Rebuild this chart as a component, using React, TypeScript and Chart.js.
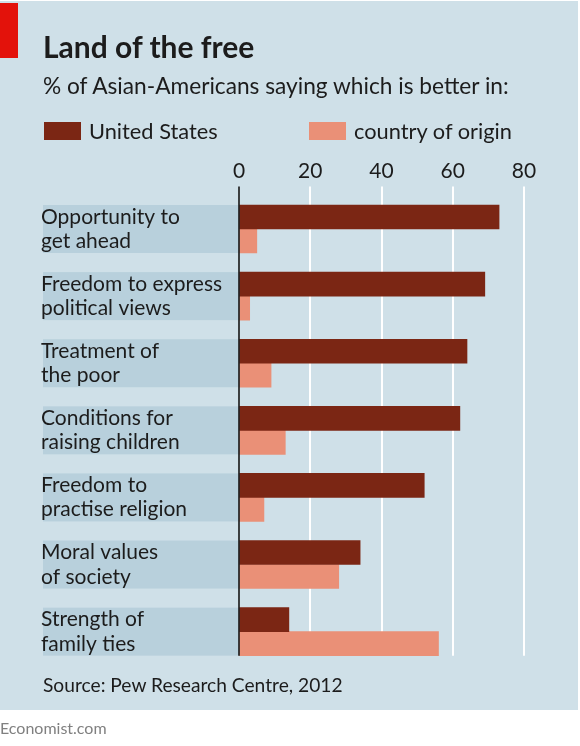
import React, { useEffect, useRef } from "react";
import { Chart, registerables } from "chart.js";

Chart.register(...registerables);

const categories: string[][] = [
  ["Opportunity to", "get ahead"],
  ["Freedom to express", "political views"],
  ["Treatment of", "the poor"],
  ["Conditions for", "raising children"],
  ["Freedom to", "practise religion"],
  ["Moral values", "of society"],
  ["Strength of", "family ties"],
];
const unitedStates = [73, 69, 64, 62, 52, 34, 14];
const countryOfOrigin = [5, 3, 9, 13, 7, 28, 56];
const xTickValues = [0, 20, 40, 60, 80];
const seriesNames = ["United States", "country of origin"];

const FONT = "Lato, 'Noto Sans', sans-serif";
const BG = "#cfe0e8";
const BAND = "#b8d0dc";
const US_COLOR = "#7b2614";
const COO_COLOR = "#ea9077";
const TEXT = "#1c1c1c";

const decorPlugin = {
  id: "decor",
  beforeDraw(chart: any) {
    const { ctx, chartArea, scales } = chart;
    const y = scales.y;
    ctx.save();
    ctx.fillStyle = BAND;
    categories.forEach((_, i) => {
      const c = y.getPixelForValue(i);
      ctx.fillRect(43, c - 24, chartArea.left - 43, 48);
    });
    ctx.restore();
  },
  beforeDatasetsDraw(chart: any) {
    const { ctx, chartArea, scales } = chart;
    const x = scales.x;
    const y = scales.y;
    const top = chartArea.top - 9;
    const bottom = y.getPixelForValue(categories.length - 1) + 24;
    ctx.save();
    ctx.strokeStyle = "#ffffff";
    ctx.lineWidth = 2;
    x.ticks.forEach((t: any) => {
      if (t.value === 0) return;
      const px = Math.round(x.getPixelForValue(t.value));
      ctx.beginPath();
      ctx.moveTo(px, top);
      ctx.lineTo(px, bottom);
      ctx.stroke();
    });
    ctx.restore();
  },
  afterDatasetsDraw(chart: any) {
    const { ctx, chartArea, scales } = chart;
    const x = scales.x;
    const y = scales.y;
    const top = chartArea.top - 9;
    const bottom = y.getPixelForValue(categories.length - 1) + 24;
    const px = x.getPixelForValue(0);
    ctx.save();
    ctx.strokeStyle = "#222222";
    ctx.lineWidth = 1.7;
    ctx.beginPath();
    ctx.moveTo(px, top);
    ctx.lineTo(px, bottom);
    ctx.stroke();
    ctx.restore();
  },
};

export default function App() {
  const ref = useRef<HTMLCanvasElement | null>(null);

  useEffect(() => {
    if (!ref.current) return;
    const chart = new Chart(ref.current, {
      type: "bar",
      data: {
        labels: categories,
        datasets: [
          {
            label: seriesNames[0],
            data: unitedStates,
            backgroundColor: US_COLOR,
            barThickness: 24,
            borderWidth: 0,
          },
          {
            label: seriesNames[1],
            data: countryOfOrigin,
            backgroundColor: COO_COLOR,
            barThickness: 24,
            borderWidth: 0,
          },
        ],
      },
      options: {
        indexAxis: "y",
        animation: false,
        responsive: false,
        maintainAspectRatio: false,
        layout: { padding: { left: 41, right: 56, top: 150, bottom: 80.8 } },
        plugins: {
          legend: { display: false },
          tooltip: { enabled: false },
          title: { display: false },
        },
        scales: {
          x: {
            position: "top",
            min: 0,
            max: 80,
            afterBuildTicks: (scale: any) => {
              scale.ticks = xTickValues.map((v) => ({ value: v }));
            },
            afterFit: (scale: any) => {
              scale.height = 45.45;
            },
            grid: { display: false, drawTicks: false },
            border: { display: false },
            ticks: {
              color: TEXT,
              font: { family: FONT, size: 21 },
              padding: 11.5,
              maxRotation: 0,
            },
          },
          y: {
            offset: true,
            afterFit: (scale: any) => {
              scale.width = 198;
            },
            grid: { display: false, drawTicks: false },
            border: { display: false },
            ticks: {
              color: TEXT,
              crossAlign: "far",
              font: { family: FONT, size: 21, lineHeight: "24.5px" },
              padding: 0,
              autoSkip: false,
            },
          },
        },
      },
      plugins: [decorPlugin],
    });
    return () => chart.destroy();
  }, []);

  const abs = (s: React.CSSProperties): React.CSSProperties => ({
    position: "absolute",
    margin: 0,
    whiteSpace: "nowrap",
    ...s,
  });

  return (
    <div
      style={{
        position: "absolute",
        left: 0,
        top: 0,
        width: 580,
        height: 746,
        background: "#ffffff",
        overflow: "hidden",
        fontFamily: FONT,
      }}
    >
      <div style={abs({ left: 0, top: 1, width: 578, height: 709, background: BG })} />
      <div style={abs({ left: 0, top: 3, width: 18, height: 55, background: "#e3120b" })} />
      <canvas
        ref={ref}
        width={580}
        height={746}
        style={{ position: "absolute", left: 0, top: 0, width: 580, height: 746 }}
      />
      <div
        style={abs({
          left: 43,
          top: 30.7,
          fontSize: 30,
          lineHeight: "30px",
          fontWeight: 700,
          color: TEXT,
        })}
      >
        Land of the free
      </div>
      <div style={abs({ left: 43, top: 74.9, fontSize: 22.7, lineHeight: "22.7px", color: TEXT })}>
        % of Asian-Americans saying which is better in:
      </div>
      <div style={abs({ left: 44, top: 122, width: 37, height: 18, background: US_COLOR })} />
      <div style={abs({ left: 89, top: 120, fontSize: 21.8, lineHeight: "21.8px", color: TEXT })}>
        {seriesNames[0]}
      </div>
      <div style={abs({ left: 309, top: 122, width: 37, height: 18, background: COO_COLOR })} />
      <div style={abs({ left: 354, top: 120, fontSize: 21.8, lineHeight: "21.8px", color: TEXT })}>
        {seriesNames[1]}
      </div>
      <div style={abs({ left: 43, top: 675, fontSize: 19.2, lineHeight: "19.2px", color: TEXT })}>
        Source: Pew Research Centre, 2012
      </div>
      <div style={abs({ left: 0, top: 720, fontSize: 16, lineHeight: "16px", color: "#808080" })}>
        Economist.com
      </div>
    </div>
  );
}
